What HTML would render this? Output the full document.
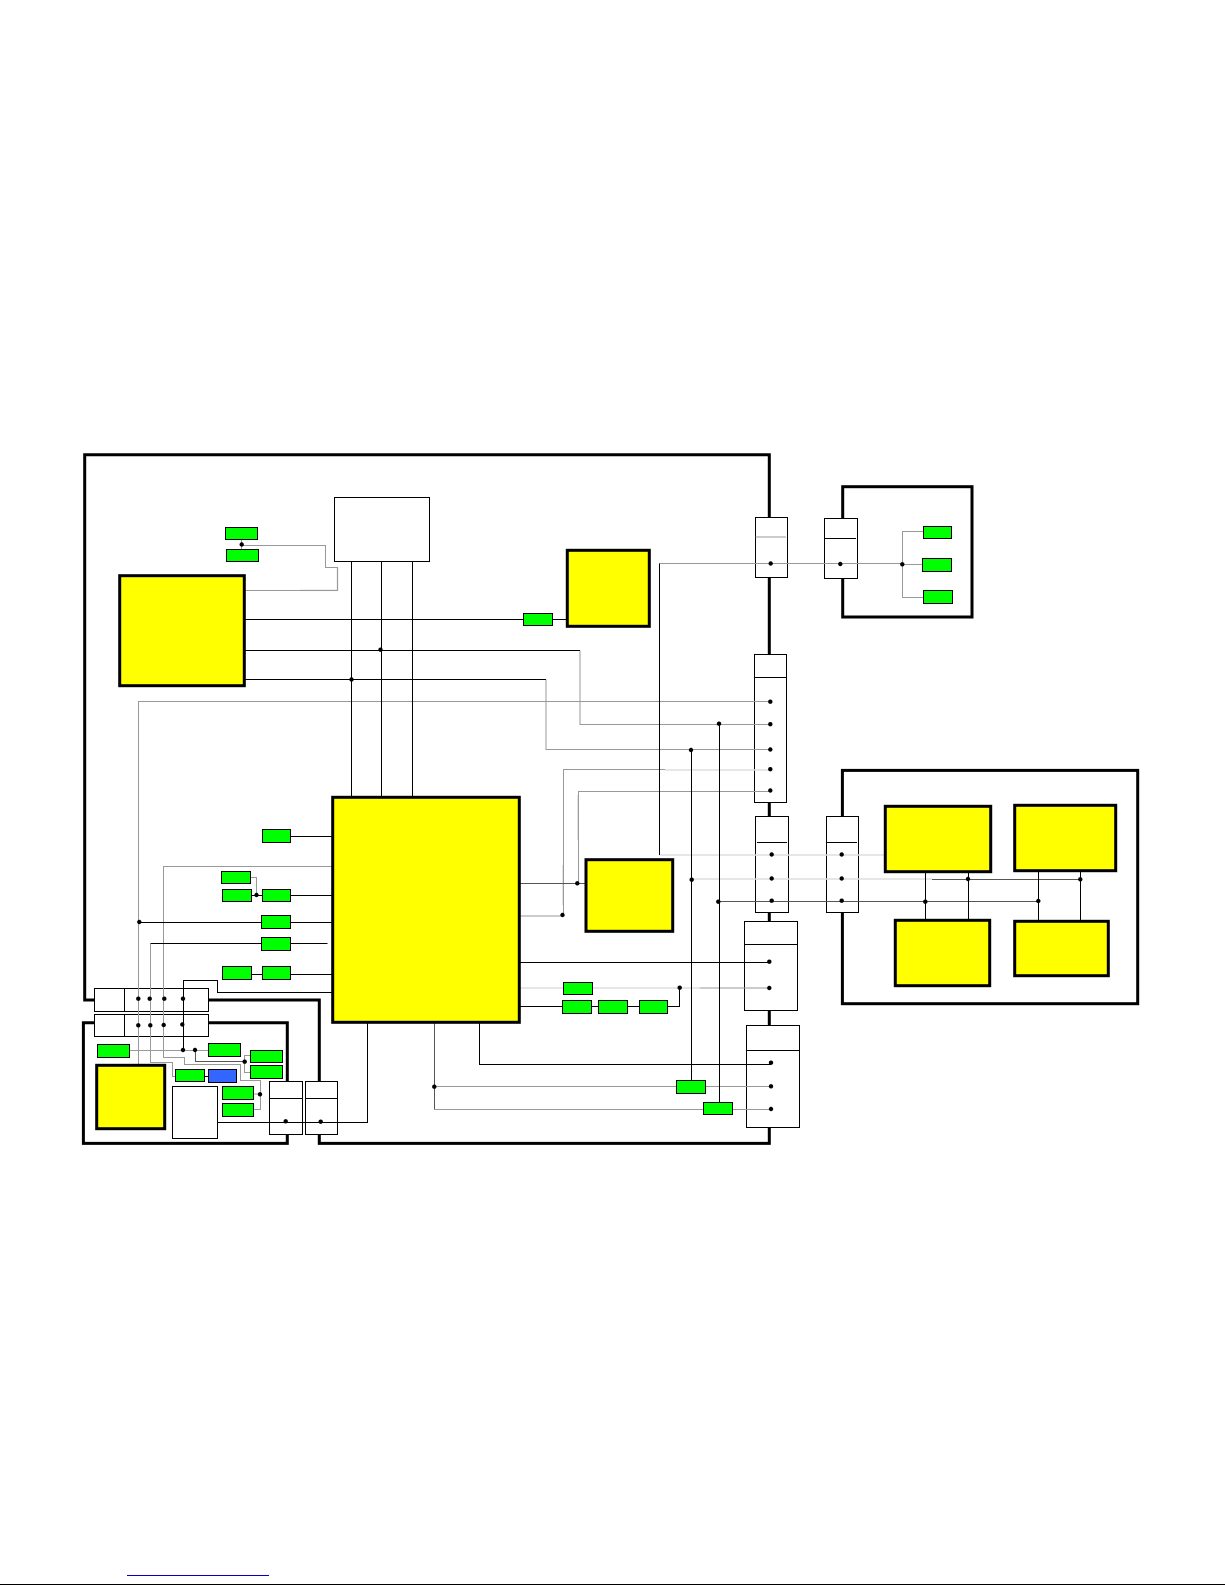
<!DOCTYPE html>
<html>
<head>
<meta charset="utf-8">
<style>
html,body{margin:0;padding:0;background:#fff;width:1225px;height:1585px;overflow:hidden}
svg{display:block}
.f{fill:none;stroke:#000;stroke-width:3;stroke-linejoin:miter}
.k{fill:none;stroke:#000;stroke-width:1}
.d{fill:none;stroke:#555;stroke-width:1}
.g{fill:none;stroke:#999;stroke-width:1}
.l{fill:none;stroke:#ddd;stroke-width:1.6}
.c{fill:#fff;stroke:#000;stroke-width:1}
.y{fill:#ff0;stroke:#000;stroke-width:3}
.n{fill:#0f0;stroke:#000;stroke-width:1}
.b{fill:#36f;stroke:#000;stroke-width:1}
</style>
</head>
<body>
<svg xmlns="http://www.w3.org/2000/svg" width="1225" height="1585" viewBox="0 0 1225 1585">
<rect width="1225" height="1585" fill="#fff"/>

<!-- frames -->
<path class="f" d="M95 1000H84.7V454.7H769.3V1143.4H319.3V1000H207"/>
<path class="f" d="M287.3 1143.4V1022.7H83.4V1143.4Z"/>
<rect class="f" x="842.7" y="486.7" width="129.3" height="130.3"/>
<rect class="f" x="842.4" y="770.4" width="295.3" height="233.3"/>

<!-- connectors -->
<rect class="c" x="94.5" y="988.5" width="114" height="23"/>
<path class="k" d="M124.5 988.5V1011.5"/>
<rect class="c" x="94.5" y="1014.5" width="114" height="22"/>
<path class="k" d="M124.5 1014.5V1036.5"/>
<rect class="c" x="269.5" y="1081.5" width="33" height="53"/>
<path class="k" d="M269.5 1098.5H302.5"/>
<rect class="c" x="305.5" y="1081.5" width="32" height="53"/>
<path class="k" d="M305.5 1098.5H337.5"/>
<rect class="c" x="755.5" y="517.5" width="32" height="60"/>
<path class="g" d="M755.5 537H786"/>
<rect class="c" x="824.5" y="518.5" width="33" height="60"/>
<path class="k" d="M824.5 538.5H856"/>
<rect class="c" x="754.5" y="654.5" width="32" height="148"/>
<path class="k" d="M754.5 677.5H786.5"/>
<rect class="c" x="755.5" y="816.5" width="33" height="96"/>
<path class="k" d="M757 842.5H787"/>
<rect class="c" x="826.5" y="816.5" width="32" height="96"/>
<path class="k" d="M826.5 842.5H857"/>
<rect class="c" x="744.5" y="921.5" width="53" height="89"/>
<path class="k" d="M744.5 944.5H797.5"/>
<rect class="c" x="746.5" y="1025.5" width="53" height="102"/>
<path class="k" d="M746.5 1050.5H799.5"/>
<rect class="c" x="334.5" y="497.5" width="95" height="64"/>
<rect class="c" x="172.5" y="1086.5" width="45" height="52"/>

<!-- light lines -->
<path class="l" d="M659.5 855H884"/>
<path class="l" d="M691.5 879H932"/>
<path class="l" d="M520 988H700"/>
<path class="l" d="M665 770H770"/>
<path class="l" d="M563 865V905M578 795V840"/>
<path class="l" d="M300 590.3H337.5V568"/>

<!-- gray lines -->
<path class="g" d="M138.5 1065V701.5H770"/>
<path class="g" d="M580 650.5V724.5H770"/>
<path class="g" d="M546 679.5V749.5H770"/>
<path class="g" d="M665 769.5H563.5V916H520"/>
<path class="g" d="M770 791.5H578.5V883"/>
<path class="g" d="M659.5 563.5H902.5"/>
<path class="g" d="M923 531.5H902.5V597.5H923M902.5 564.5H922"/>
<path class="g" d="M241.5 545.5H325.5V567.5H337.5V590.5H245.7"/>
<path class="g" d="M241.5 540V549"/>
<path class="g" d="M332 866.5H163.5V1057.5H184.5V1064.5H240.5V1080.5H260.5V1109.5H253.7M253.7 1094H260.5"/>
<path class="g" d="M250.7 877.5H256.5V895"/>
<path class="g" d="M150.5 943.5V1062.5H172.5V1076.5H175"/>
<path class="g" d="M129.7 1050.5H208"/>
<path class="g" d="M250 1055.5H244.5V1072.5H250"/>
<path class="g" d="M434.5 1086.5H676M705.7 1086.5H771"/>
<path class="g" d="M434.5 1109.5H703M732.7 1109.5H771"/>
<path class="g" d="M700 988H770"/>

<!-- dark gray lines -->
<path class="d" d="M434.5 1023V1109.5"/>
<path class="d" d="M718.5 901.5H1038.5"/>
<path class="d" d="M520.5 883.5H585"/>
<path class="d" d="M932 879.5H1080.5"/>
<path class="d" d="M195.5 1050V1061.5H244.5"/>

<!-- black lines -->
<path class="k" d="M351.5 561.5V797M381.5 561.5V797M412.5 561.5V797"/>
<path class="k" d="M245 619.5H524M552.7 619.5H567"/>
<path class="k" d="M245 650.5H580"/>
<path class="k" d="M245 679.5H546"/>
<path class="k" d="M659.5 563.5V855"/>
<path class="k" d="M691.5 750V1080"/>
<path class="k" d="M719.5 724V1102"/>
<path class="k" d="M925.5 872V920M968.5 872V920M1038.5 871V921M1080.5 871V921"/>
<path class="k" d="M520 962.5H769"/>
<path class="k" d="M520 1006.5H679.5V988"/>
<path class="k" d="M479.5 1023V1064.5H771"/>
<path class="k" d="M367.5 1023V1122.5H217.7"/>
<path class="k" d="M290.7 836.5H332"/>
<path class="k" d="M251.7 895.5H332"/>
<path class="k" d="M139 922.5H332"/>
<path class="k" d="M150.5 943.5H327.5"/>
<path class="k" d="M251.7 974.5H332"/>
<path class="k" d="M332 992.5H217.5V980.5H183.5V1050"/>
<path class="k" d="M204.7 1076.5H208.3"/>

<!-- green -->
<rect class="n" x="225.5" y="527.5" width="32" height="12"/>
<rect class="n" x="226.5" y="549.5" width="32" height="12"/>
<rect class="n" x="523.5" y="613.5" width="29" height="12"/>
<rect class="n" x="923.5" y="526.5" width="28" height="12"/>
<rect class="n" x="922.5" y="558.5" width="29" height="13"/>
<rect class="n" x="923.5" y="590.5" width="29" height="13"/>
<rect class="n" x="262.5" y="829.5" width="28" height="13"/>
<rect class="n" x="221.5" y="871.5" width="29" height="12"/>
<rect class="n" x="222.5" y="889.5" width="29" height="12"/>
<rect class="n" x="262.5" y="889.5" width="28" height="12"/>
<rect class="n" x="261.5" y="915.5" width="29" height="13"/>
<rect class="n" x="261.5" y="937.5" width="29" height="13"/>
<rect class="n" x="222.5" y="966.5" width="29" height="13"/>
<rect class="n" x="262.5" y="966.5" width="28" height="13"/>
<rect class="n" x="97.5" y="1044.5" width="32" height="13"/>
<rect class="n" x="208.5" y="1043.5" width="32" height="13"/>
<rect class="n" x="250.5" y="1050.5" width="32" height="12"/>
<rect class="n" x="250.5" y="1065.5" width="32" height="13"/>
<rect class="n" x="175.5" y="1069.5" width="29" height="12"/>
<rect class="b" x="208.5" y="1069.5" width="28" height="13"/>
<rect class="n" x="222.5" y="1086.5" width="31" height="13"/>
<rect class="n" x="222.5" y="1103.5" width="31" height="13"/>
<rect class="n" x="563.5" y="982.5" width="29" height="12"/>
<rect class="n" x="562.5" y="1000.5" width="29" height="13"/>
<rect class="n" x="598.5" y="1000.5" width="29" height="13"/>
<rect class="n" x="639.5" y="1000.5" width="28" height="13"/>
<rect class="n" x="676.5" y="1080.5" width="29" height="13"/>
<rect class="n" x="703.5" y="1102.5" width="29" height="12"/>

<!-- yellow -->
<rect class="y" x="119.7" y="575.7" width="124.6" height="110"/>
<rect class="y" x="567.3" y="550.3" width="82" height="76"/>
<rect class="y" x="332.7" y="797.3" width="186.6" height="225"/>
<rect class="y" x="586" y="859.7" width="86.7" height="71.6"/>
<rect class="y" x="96.7" y="1065.3" width="68" height="63.4"/>
<rect class="y" x="885.3" y="806.3" width="105.4" height="65.4"/>
<rect class="y" x="1014.7" y="805.3" width="101" height="65.4"/>
<rect class="y" x="895.3" y="920.3" width="94.4" height="65.4"/>
<rect class="y" x="1014.7" y="921.3" width="93.6" height="54.4"/>

<!-- dots -->
<g fill="#000">
<circle cx="241.7" cy="544.5" r="2.2"/>
<circle cx="380.5" cy="649.7" r="2.2"/>
<circle cx="351.5" cy="679.5" r="2.2"/>
<circle cx="770.7" cy="563.5" r="2.2"/>
<circle cx="840.3" cy="564" r="2.2"/>
<circle cx="902.3" cy="564.3" r="2.2"/>
<circle cx="770.3" cy="701.7" r="2.2"/>
<circle cx="770.3" cy="724.2" r="2.2"/>
<circle cx="770.3" cy="749.5" r="2.2"/>
<circle cx="770.3" cy="769.2" r="2.2"/>
<circle cx="770.3" cy="790.5" r="2.2"/>
<circle cx="719" cy="723.7" r="2.2"/>
<circle cx="691" cy="750" r="2.2"/>
<circle cx="771.7" cy="854.5" r="2.2"/>
<circle cx="771.7" cy="878.5" r="2.2"/>
<circle cx="771.7" cy="900.7" r="2.2"/>
<circle cx="841.7" cy="854.5" r="2.2"/>
<circle cx="841.7" cy="878.5" r="2.2"/>
<circle cx="841.7" cy="900.7" r="2.2"/>
<circle cx="691.7" cy="879.7" r="2.2"/>
<circle cx="718.3" cy="901.7" r="2.2"/>
<circle cx="968" cy="879" r="2.2"/>
<circle cx="1080.3" cy="879.3" r="2.2"/>
<circle cx="925.3" cy="901.7" r="2.2"/>
<circle cx="1038.3" cy="901" r="2.2"/>
<circle cx="577.3" cy="883.3" r="2.2"/>
<circle cx="562.5" cy="915" r="2.2"/>
<circle cx="769.3" cy="961.7" r="2.2"/>
<circle cx="769.3" cy="988" r="2.2"/>
<circle cx="679.7" cy="987.7" r="2.2"/>
<circle cx="771" cy="1062.7" r="2.2"/>
<circle cx="771" cy="1086.3" r="2.2"/>
<circle cx="771" cy="1109" r="2.2"/>
<circle cx="434.3" cy="1086.7" r="2.2"/>
<circle cx="256.5" cy="895" r="2.2"/>
<circle cx="139.3" cy="922" r="2.2"/>
<circle cx="138.3" cy="998.7" r="2.2"/>
<circle cx="149.7" cy="998.7" r="2.2"/>
<circle cx="164.3" cy="998.7" r="2.2"/>
<circle cx="183" cy="998.7" r="2.2"/>
<circle cx="138.3" cy="1025.3" r="2.2"/>
<circle cx="150.3" cy="1025.3" r="2.2"/>
<circle cx="163.7" cy="1025" r="2.2"/>
<circle cx="182.3" cy="1024.5" r="2.2"/>
<circle cx="183" cy="1050" r="2.2"/>
<circle cx="195" cy="1050" r="2.2"/>
<circle cx="244.7" cy="1061.7" r="2.2"/>
<circle cx="260" cy="1094.3" r="2.2"/>
<circle cx="285.7" cy="1121.3" r="2.2"/>
<circle cx="320.7" cy="1121.7" r="2.2"/>
</g>

<!-- footer -->
<rect x="127" y="1575" width="142" height="1" fill="#0000cc"/>
<rect x="0" y="1584" width="1225" height="1" fill="#000"/>
</svg>
</body>
</html>
